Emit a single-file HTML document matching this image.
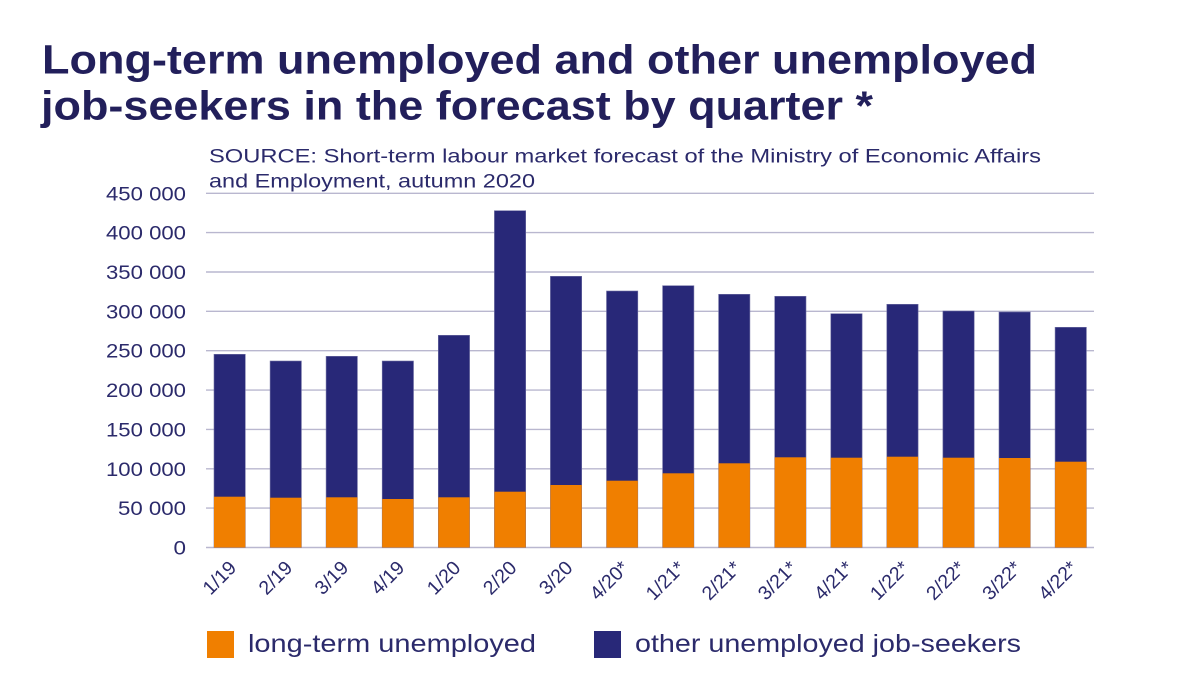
<!DOCTYPE html>
<html>
<head>
<meta charset="utf-8">
<style>
html,body{margin:0;padding:0;background:#fff;}
svg{display:block;}
text{font-family:"Liberation Sans",sans-serif;}
</style>
</head>
<body>
<svg width="1200" height="675" viewBox="0 0 1200 675" xmlns="http://www.w3.org/2000/svg">
<rect width="1200" height="675" fill="#fff"/>
<!-- Title -->
<text x="42" y="73.5" font-size="41" font-weight="bold" fill="#221f5b" textLength="995" lengthAdjust="spacingAndGlyphs">Long-term unemployed and other unemployed</text>
<text x="41" y="119.5" font-size="41" font-weight="bold" fill="#221f5b" textLength="832" lengthAdjust="spacingAndGlyphs">job-seekers in the forecast by quarter *</text>
<!-- Subtitle -->
<text x="209" y="162.5" font-size="19" fill="#2b2a6b" textLength="832" lengthAdjust="spacingAndGlyphs">SOURCE: Short-term labour market forecast of the Ministry of Economic Affairs</text>
<text x="209" y="187.5" font-size="19" fill="#2b2a6b" textLength="326" lengthAdjust="spacingAndGlyphs">and Employment, autumn 2020</text>
<!-- Gridlines -->
<g stroke="#b9b7cf" stroke-width="1.4">
<line x1="206" x2="1094" y1="547.5" y2="547.5"/>
<line x1="206" x2="1094" y1="508.1" y2="508.1"/>
<line x1="206" x2="1094" y1="468.8" y2="468.8"/>
<line x1="206" x2="1094" y1="429.4" y2="429.4"/>
<line x1="206" x2="1094" y1="390.1" y2="390.1"/>
<line x1="206" x2="1094" y1="350.7" y2="350.7"/>
<line x1="206" x2="1094" y1="311.3" y2="311.3"/>
<line x1="206" x2="1094" y1="272.0" y2="272.0"/>
<line x1="206" x2="1094" y1="232.6" y2="232.6"/>
<line x1="206" x2="1094" y1="193.3" y2="193.3"/>
</g>
<!-- Y labels -->
<g font-size="19.5" fill="#2b2a6b" text-anchor="end">
<text x="186" y="554.5" textLength="12.5" lengthAdjust="spacingAndGlyphs">0</text>
<text x="186" y="515.1" textLength="68" lengthAdjust="spacingAndGlyphs">50 000</text>
<text x="186" y="475.8" textLength="80" lengthAdjust="spacingAndGlyphs">100 000</text>
<text x="186" y="436.4" textLength="80" lengthAdjust="spacingAndGlyphs">150 000</text>
<text x="186" y="397.1" textLength="80" lengthAdjust="spacingAndGlyphs">200 000</text>
<text x="186" y="357.7" textLength="80" lengthAdjust="spacingAndGlyphs">250 000</text>
<text x="186" y="318.3" textLength="80" lengthAdjust="spacingAndGlyphs">300 000</text>
<text x="186" y="279.0" textLength="80" lengthAdjust="spacingAndGlyphs">350 000</text>
<text x="186" y="239.6" textLength="80" lengthAdjust="spacingAndGlyphs">400 000</text>
<text x="186" y="200.3" textLength="80" lengthAdjust="spacingAndGlyphs">450 000</text>
</g>
<!-- Bars: navy (total) then orange (long-term) -->
<g fill="#282878" stroke="#6f6fa3" stroke-width="0.6">
<rect x="214.0" y="354.3" width="31.3" height="193.2"/>
<rect x="270.1" y="361.0" width="31.3" height="186.5"/>
<rect x="326.1" y="356.3" width="31.3" height="191.2"/>
<rect x="382.2" y="361.0" width="31.3" height="186.5"/>
<rect x="438.3" y="335.3" width="31.3" height="212.2"/>
<rect x="494.4" y="210.7" width="31.3" height="336.8"/>
<rect x="550.4" y="276.3" width="31.3" height="271.2"/>
<rect x="606.5" y="291.0" width="31.3" height="256.5"/>
<rect x="662.6" y="285.7" width="31.3" height="261.8"/>
<rect x="718.6" y="294.3" width="31.3" height="253.2"/>
<rect x="774.7" y="296.3" width="31.3" height="251.2"/>
<rect x="830.8" y="313.7" width="31.3" height="233.8"/>
<rect x="886.8" y="304.3" width="31.3" height="243.2"/>
<rect x="942.9" y="311.0" width="31.3" height="236.5"/>
<rect x="999.0" y="312.0" width="31.3" height="235.5"/>
<rect x="1055.1" y="327.3" width="31.3" height="220.2"/>
</g>
<g fill="#f07f00">
<rect x="214.0" y="496.7" width="31.3" height="50.8"/>
<rect x="270.1" y="497.7" width="31.3" height="49.8"/>
<rect x="326.1" y="497.3" width="31.3" height="50.2"/>
<rect x="382.2" y="499.0" width="31.3" height="48.5"/>
<rect x="438.3" y="497.3" width="31.3" height="50.2"/>
<rect x="494.4" y="491.7" width="31.3" height="55.8"/>
<rect x="550.4" y="485.0" width="31.3" height="62.5"/>
<rect x="606.5" y="480.7" width="31.3" height="66.8"/>
<rect x="662.6" y="473.3" width="31.3" height="74.2"/>
<rect x="718.6" y="463.3" width="31.3" height="84.2"/>
<rect x="774.7" y="457.3" width="31.3" height="90.2"/>
<rect x="830.8" y="457.7" width="31.3" height="89.8"/>
<rect x="886.8" y="456.7" width="31.3" height="90.8"/>
<rect x="942.9" y="457.7" width="31.3" height="89.8"/>
<rect x="999.0" y="458.0" width="31.3" height="89.5"/>
<rect x="1055.1" y="461.7" width="31.3" height="85.8"/>
</g>
<!-- X labels -->
<g font-size="19.5" fill="#2b2a6b" text-anchor="end">
<text transform="translate(237.4,569) rotate(-45)">1/19</text>
<text transform="translate(293.5,569) rotate(-45)">2/19</text>
<text transform="translate(349.5,569) rotate(-45)">3/19</text>
<text transform="translate(405.6,569) rotate(-45)">4/19</text>
<text transform="translate(461.7,569) rotate(-45)">1/20</text>
<text transform="translate(517.8,569) rotate(-45)">2/20</text>
<text transform="translate(573.8,569) rotate(-45)">3/20</text>
<text transform="translate(629.9,569) rotate(-45)">4/20*</text>
<text transform="translate(686.0,569) rotate(-45)">1/21*</text>
<text transform="translate(742.0,569) rotate(-45)">2/21*</text>
<text transform="translate(798.1,569) rotate(-45)">3/21*</text>
<text transform="translate(854.2,569) rotate(-45)">4/21*</text>
<text transform="translate(910.2,569) rotate(-45)">1/22*</text>
<text transform="translate(966.3,569) rotate(-45)">2/22*</text>
<text transform="translate(1022.4,569) rotate(-45)">3/22*</text>
<text transform="translate(1078.5,569) rotate(-45)">4/22*</text>
</g>
<!-- Legend -->
<rect x="207" y="631" width="27" height="27" fill="#f07f00"/>
<text x="248" y="652" font-size="25" fill="#2b2a6b" textLength="288" lengthAdjust="spacingAndGlyphs">long-term unemployed</text>
<rect x="594" y="631" width="27" height="27" fill="#282878"/>
<text x="635" y="652" font-size="25" fill="#2b2a6b" textLength="386" lengthAdjust="spacingAndGlyphs">other unemployed job-seekers</text>
</svg>
</body>
</html>
